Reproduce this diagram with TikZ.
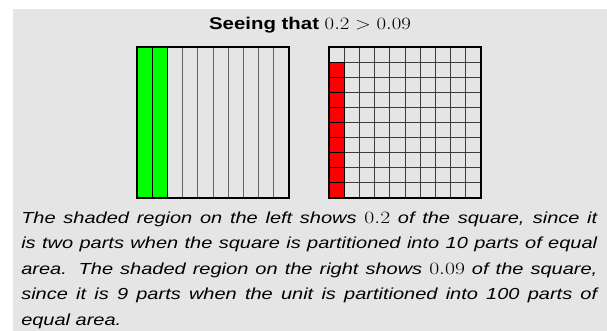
\documentclass[tikz,border=0pt]{standalone}
\usepackage[no-math]{fontspec}
\newfontfamily\helv{Liberation Sans}
\newcommand\capnum[1]{{\fontsize{18.5}{20}\selectfont$#1$}}
\definecolor{bgc}{RGB}{229,229,229}
\definecolor{gridgray}{RGB}{100,100,100}
\definecolor{griddark}{RGB}{60,60,60}
\definecolor{shadegreen}{RGB}{0,255,0}
\definecolor{shadered}{RGB}{255,0,0}
\tikzset{
  outerbox/.style={draw=black, line width=2pt},
  innerline/.style={draw=gridgray, line width=1pt},
  gridline/.style={draw=griddark, line width=1pt},
  darkline/.style={draw=black, line width=1pt},
  titletext/.style={font=\helv\fontsize{17}{20}\selectfont, inner sep=0pt},
  captiontext/.style={font=\helv\itshape\fontsize{16}{25.5}\selectfont, inner sep=0pt,
    text width=460.8pt, align=justify}
}
\begin{document}
\begin{tikzpicture}[x=1pt,y=-1pt]
\useasboundingbox (0,0) rectangle (607,331);
\fill[bgc] (13,9) rectangle (607,331);
% title
\begin{scope}[shift={(310,30)}, xscale=1.2]
\node[titletext, transform shape, anchor=base] (title) at (0,0) {\textbf{Seeing that} $0.2 > 0.09$};
\end{scope}
% left square: 10 vertical strips, 2 shaded
\def\cw{15.2}
\fill[shadegreen] (137,47) rectangle ({137+2*\cw},198);
\foreach \i in {3,...,9}{
  \draw[innerline] ({137+\i*\cw},47) -- ({137+\i*\cw},198);
}
\foreach \i in {1,2}{
  \draw[darkline] ({137+\i*\cw},47) -- ({137+\i*\cw},198);
}
\draw[outerbox] (137,47) rectangle (289,198);
% right square: 10 x 10 grid, 9 cells shaded
\def\ch{15.1}
\fill[shadered] (329,{47+\ch}) rectangle ({329+\cw},198);
\foreach \i in {1,...,9}{
  \draw[gridline] ({329+\i*\cw},47) -- ({329+\i*\cw},198);
  \draw[gridline] (329,{47+\i*\ch}) -- (481,{47+\i*\ch});
}
\foreach \i in {1,...,9}{
  \draw[darkline] (329,{47+\i*\ch}) -- ({329+\cw},{47+\i*\ch});
}
\draw[darkline] ({329+\cw},{47+\ch}) -- ({329+\cw},198);
\draw[outerbox] (329,47) rectangle (481,198);
% caption
\begin{scope}[shift={(21,211.5)}, xscale=1.25]
\node[captiontext, transform shape, anchor=north west] (caption) at (0,0) {The shaded region on the left shows \capnum{0.2} of the square, since it\linebreak is two parts when the square is partitioned into 10 parts of equal\linebreak area.  The shaded region on the right shows \capnum{0.09} of the square,\linebreak since it is 9 parts when the unit is partitioned into 100 parts of\linebreak equal area.};
\end{scope}
\end{tikzpicture}
\end{document}
